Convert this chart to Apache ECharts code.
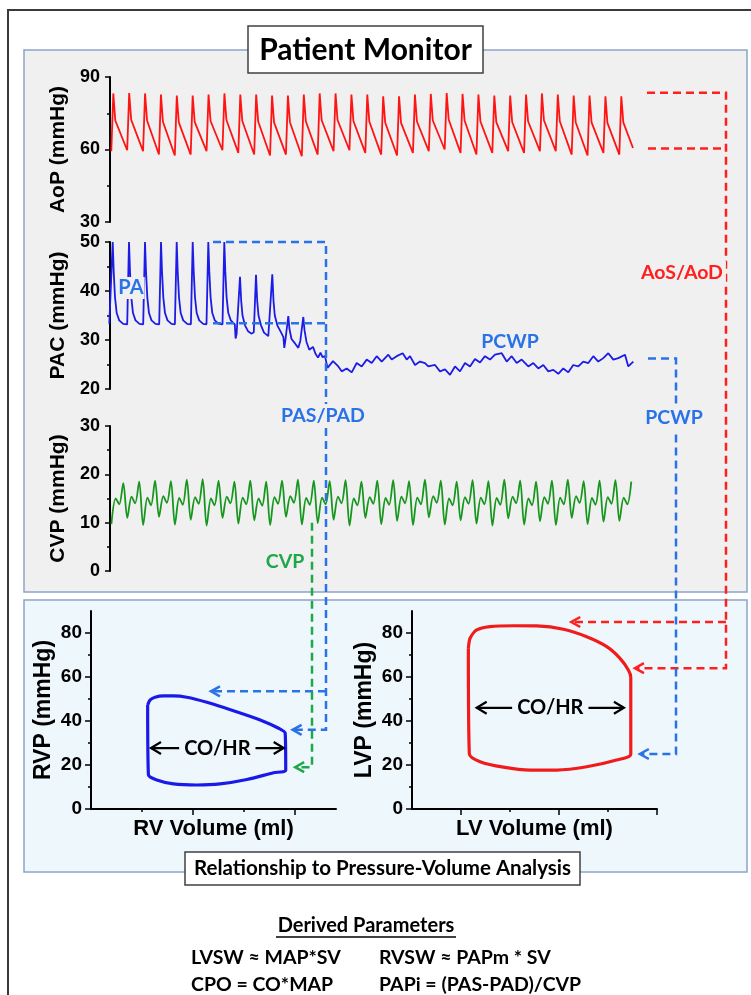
<!DOCTYPE html>
<html>
<head>
<meta charset="utf-8">
<script src="https://cdn.jsdelivr.net/npm/echarts@6/dist/echarts.min.js"></script>
<style>
  html, body { margin: 0; padding: 0; background: #fff; }
  #main { width: 751px; height: 995px; }
</style>
</head>
<body>
<div id="main"></div>
<script>
// monitor time axis in samples (20 Hz, 1 sample = 50 ms)
const beatPeriod = 15.875

// aortic pressure, one value per beat (mmHg)
const aopFirstPeak = 3.3
const aopSys = [83.2, 83.4, 83.2, 82.7, 82.3, 82.3, 82.7, 83.2, 82.7, 82.7, 82.3, 82.3, 82.7, 83.2, 83.2, 82.7, 82.7,
  82.0, 82.0, 82.7, 83.0, 83.4, 83.0, 82.7, 82.3, 82.3, 82.7, 83.2, 82.7, 82.3, 82.3, 82.0, 82.0]
const aopDia = [59.3, 59.7, 59.3, 57.9, 57.5, 57.9, 59.3, 59.7, 58.6, 57.9, 57.5, 57.9, 57.2, 57.9, 59.3, 59.7, 58.6,
  57.9, 57.5, 58.6, 59.3, 60.0, 58.6, 57.9, 58.6, 59.3, 58.6, 59.3, 59.3, 57.9, 57.5, 58.6, 57.9]
const aopNotch = [72.0, 72.3, 72.0, 71.5, 71.2, 71.4, 71.8, 72.2, 71.8, 71.6, 71.2, 71.3, 71.7, 72.1, 72.2, 71.8, 71.6,
  71.2, 71.0, 71.6, 72.0, 72.4, 72.0, 71.6, 71.3, 71.4, 71.7, 72.1, 71.7, 71.3, 71.2, 71.0, 71.2]
const aopEnd = [523, 60.6]

// central venous pressure, one value per beat (mmHg)
const cvpFirstPeak = 13.3
const cvpPeak = [18.2, 18.5, 18.7, 18.6, 18.9, 19.0, 18.7, 18.5, 18.7, 18.5, 18.7, 18.9, 18.7, 18.6, 18.8, 18.5, 18.7,
  18.8, 18.6, 18.9, 18.7, 18.5, 18.8, 18.6, 18.9, 18.7, 18.5, 18.7, 18.9, 18.6, 18.7, 18.8, 18.5]
const cvpTrough = [9.7, 11.0, 9.5, 11.2, 9.6, 10.6, 9.4, 11.0, 9.8, 10.5, 9.5, 11.2, 9.6, 9.9, 10.6, 9.4, 11.0,
  9.7, 10.4, 9.5, 11.1, 9.6, 10.5, 9.8, 9.4, 10.9, 9.6, 10.3, 9.5, 11.0, 9.7, 10.2, 10.4]
const cvpHump = [15.0, 15.4, 15.2, 15.5, 15.1, 15.3, 15.0, 15.4, 15.2, 15.0, 15.3, 15.5, 15.1, 15.2, 15.4, 15.0, 15.3,
  15.1, 15.4, 15.2, 15.5, 15.0, 15.3, 15.2, 15.1, 15.4, 15.0, 15.3, 15.2, 15.5, 15.1, 15.3, 15.2]
const cvpDip = [13.8, 14.0, 13.6, 14.1, 13.7, 13.9, 13.6, 14.0, 13.8, 13.5, 13.9, 14.1, 13.7, 13.8, 14.0, 13.6, 13.9,
  13.7, 14.0, 13.8, 14.1, 13.6, 13.9, 13.8, 13.7, 14.0, 13.6, 13.9, 13.8, 14.1, 13.7, 13.9, 13.8]

// pulmonary artery catheter pressure [sample, mmHg] (PA -> wedge)
const pacTrace = [
  [-0.7, 33.3], [2.7, 50], [3.7, 44], [5.0, 38.7], [6.7, 35.5], [9.2, 34], [13.2, 33.3],
  [17.2, 33.2], [19, 50], [20, 44], [21.3, 38.7], [23, 35.5], [25.5, 34], [29.5, 33.3],
  [33.2, 33.2], [35, 50], [36, 44], [37.3, 38.7], [39, 35.5], [41.5, 34], [45.5, 33.3],
  [49.2, 33.2], [51, 50], [52, 44], [53.3, 38.7], [55, 35.5], [57.5, 34], [61.5, 33.3],
  [64.9, 33.2], [66.7, 50], [67.7, 44], [69, 38.7], [70.7, 35.5], [73.2, 34], [77.2, 33.3],
  [80.9, 33.2], [82.7, 50], [83.7, 44], [85, 38.7], [86.7, 35.5], [89.2, 34], [93.2, 33.3],
  [96.5, 33.2], [98.3, 50], [99.3, 44], [100.6, 38.7], [102.3, 35.5], [104.8, 34], [108.8, 33.3],
  [112.5, 33.2], [114.3, 50], [115.3, 44], [116.6, 38.7], [118.3, 35.5], [120.8, 34], [124.8, 33.2],
  [125.6, 30.3], [126.6, 31.2], [130, 42.9], [131.2, 38], [132.5, 35], [135, 33], [138, 31.8], [141.7, 31.3], [143.8, 31.6],
  [146, 43.3], [147.2, 38], [148.5, 35], [151, 33], [154, 31.5], [158.3, 30.8], [160.2, 31.2],
  [162.3, 43.4], [163.5, 38], [164.8, 35], [167.3, 33], [171.7, 31.3], [173.4, 30.6], [174.3, 28.4], [175.3, 29.8],
  [178.3, 34.9], [179.5, 32.2], [181.5, 30.2], [185, 29.3], [188.3, 28.4], [190.3, 29.8],
  [193.3, 34.7], [194.5, 32], [196.5, 29.6], [199.3, 28], [203, 28.6], [205.5, 27.2], [208, 26.4], [210.5, 27.4],
  [212.5, 26.5], [215, 26.7], [217.5, 24.3],
  [223, 25.7], [228.3, 24.6], [231.7, 23.6], [236.7, 24.2], [241.7, 23.4], [246.7, 25.3], [251.7, 24.6], [256.7, 26.0],
  [261.7, 25.3], [266.7, 26.7], [271.7, 25.6], [278.3, 27.0], [281.7, 26.0], [286.7, 26.7], [292.7, 27.3], [296.7, 26.0],
  [300, 26.7], [305, 24.9], [310, 25.6], [315, 25.3], [318.3, 24.6], [325, 24.9], [330, 23.6], [335, 24.0], [340, 22.9],
  [345, 24.6], [350, 23.6], [355, 25.3], [360, 24.6], [365, 26.1], [370, 25.4], [375, 26.7], [380, 26.0], [385, 27.0],
  [391.7, 27.3], [396.7, 25.6], [401.7, 26.7], [406.7, 25.3], [411.7, 26.0], [418.3, 24.6], [423.3, 25.3], [428.3, 24.2],
  [433.3, 24.9], [438.3, 23.6], [443.3, 23.9], [448.3, 23.1], [453.3, 24.2], [458.3, 23.4], [463.3, 24.9], [468.3, 24.6],
  [473.3, 25.6], [478.3, 25.3], [483.3, 26.7], [488.3, 25.6], [493.3, 26.3], [498.3, 27.3], [503.3, 26.0], [508.3, 26.3],
  [515, 27.0], [518.3, 24.6], [523.3, 25.6]
]

// pressure-volume loops [volume, mmHg]
const rvLoop = [
  [22.2, 47.3], [23.1, 49.5], [25.1, 50.8], [28.4, 51.4], [32.3, 51.4], [37.5, 50.8], [45.4, 48.5], [55.8, 44.7],
  [66.3, 40.5], [73.5, 36.7], [76.1, 34.4], [76.3, 17.7], [71.5, 16.5], [61.1, 13.4], [50.6, 11.4], [41.4, 10.9],
  [32.3, 11.4], [25.8, 13.2], [22.5, 15.5], [22.2, 47.3]
]
const lvLoop = [
  [23.0, 73.0], [23.7, 77.6], [26.4, 81.4], [31.8, 82.9], [41.4, 83.3], [50.9, 83.2], [61.8, 81.7], [71.3, 78.3],
  [79.5, 73.8], [84.9, 68.5], [88.3, 63.2], [89.3, 59.9], [89.3, 24.9], [83.5, 22.3], [71.3, 19.2], [59.1, 17.7],
  [48.2, 17.7], [37.3, 19.0], [27.8, 21.5], [23.4, 25.0], [23.0, 73.0]
]

// annotation anchors (values on the chart scales)
const aoLevels = [83.5, 60.4]            // AoS, AoD on AoP
const lvAoTips = [[65, 85], [91, 64]]    // arrow tips on LV plot
const pasPadLevels = [50, 33.4]          // PAS, PAD on PAC
const rvPaTips = [[47, 53.5], [79, 36]]  // arrow tips on RV plot
const pcwpLevel = 26.2
const lvPcwpTip = [93, 25]
const cvpLevel = 10
const rvCvpTip = [80, 19]
const coHrRv = [23.5, 75.5, 27.7]
const coHrLv = [26.4, 86.5, 46]

const aopData = []
aopSys.forEach((s, k) => {
  const t = aopFirstPeak + k * beatPeriod
  aopData.push([t - 2, aopDia[k]], [t, s], [t + 2, aopNotch[k]])
})
aopData.push(aopEnd)

const cvpData = []
cvpPeak.forEach((p, k) => {
  const t = cvpFirstPeak + k * beatPeriod
  cvpData.push([t - 11.9, cvpTrough[k]], [t - 7.6, cvpHump[k]], [t - 4, cvpDip[k]], [t, p])
})

const AX = 'Liberation Sans'
const CAL = 'Lato'
const tickFont = { fontFamily: AX, fontWeight: 'bold', fontSize: 18, color: '#000' }
const nameFont = { fontFamily: AX, fontWeight: 'bold', fontSize: 21, color: '#000' }
const axisBlack = { lineStyle: { color: '#000', width: 2 } }

const monitorY = (gi, min, max, interval, name) => ({
  gridIndex: gi, type: 'value', min, max, interval,
  axisLine: { show: true, ...axisBlack },
  axisTick: { show: true, inside: false, length: 5, lineStyle: { color: '#000', width: 1.5 } },
  minorTick: { show: true, splitNumber: 2, length: 3, lineStyle: { color: '#000', width: 1.5 } },
  axisLabel: { ...tickFont, margin: 8 },
  splitLine: { show: false }, minorSplitLine: { show: false },
  name, nameLocation: 'middle', nameGap: 36, nameTextStyle: nameFont
})
const hiddenX = gi => ({ gridIndex: gi, type: 'value', min: -2, max: 531, show: false, splitLine: { show: false } })

const pvX = (gi, max, major, name) => ({
  gridIndex: gi, type: 'value', min: 0, max,
  axisLine: { show: true, onZero: false, ...axisBlack },
  axisTick: { show: true, length: 6, customValues: major, lineStyle: { color: '#000', width: 1.5 } },
  axisLabel: { show: false },
  splitLine: { show: false },
  name, nameLocation: 'middle', nameGap: 9,
  nameTextStyle: { ...nameFont, fontSize: 22 }
})
const pvXMinor = (gi, max, minor) => ({
  gridIndex: gi, type: 'value', min: 0, max, position: 'bottom', offset: 0,
  axisLine: { show: false }, axisLabel: { show: false }, splitLine: { show: false },
  axisTick: { show: true, length: 3, customValues: minor, lineStyle: { color: '#000', width: 1.5 } }
})
const pvY = (gi, name) => ({
  gridIndex: gi, type: 'value', min: 0, max: 90, interval: 20,
  axisLine: { show: true, onZero: false, ...axisBlack },
  axisTick: { show: true, length: 6, customValues: [0, 20, 40, 60, 80], lineStyle: { color: '#000', width: 1.5 } },
  axisLabel: { ...tickFont, fontSize: 19, margin: 9, customValues: [0, 20, 40, 60, 80] },
  splitLine: { show: false },
  name, nameLocation: 'middle', nameGap: 36,
  nameTextStyle: { ...nameFont, fontSize: 23 }
})
const pvYMinor = gi => ({
  gridIndex: gi, type: 'value', min: 0, max: 90, position: 'left', offset: 0,
  axisLine: { show: false }, axisLabel: { show: false }, splitLine: { show: false },
  axisTick: { show: true, length: 3, customValues: [10, 30, 50, 70], lineStyle: { color: '#000', width: 1.5 } }
})

const trace = (name, xi, yi, data, color, width, smooth = false) => ({
  name, type: 'line', xAxisIndex: xi, yAxisIndex: yi, data,
  symbol: 'none', smooth, animation: false,
  lineStyle: { color, width }, itemStyle: { color }
})

const option = {
  backgroundColor: '#ffffff',
  animation: false,
  grid: [
    { left: 108, top: 77, width: 533, height: 145, outerBoundsMode: 'none' },
    { left: 108, top: 242, width: 533, height: 147, outerBoundsMode: 'none' },
    { left: 108, top: 426, width: 533, height: 145, outerBoundsMode: 'none' },
    { left: 91, top: 611, width: 245, height: 198, outerBoundsMode: 'none' },
    { left: 412, top: 611, width: 245, height: 198, outerBoundsMode: 'none' }
  ],
  xAxis: [
    hiddenX(0), hiddenX(1), hiddenX(2),
    pvX(3, 96, [40, 80], 'RV Volume (ml)'), pvXMinor(3, 96, [20, 60]),
    pvX(4, 100, [20, 60, 100], 'LV Volume (ml)'), pvXMinor(4, 100, [40, 80])
  ],
  yAxis: [
    monitorY(0, 30, 90, 30, 'AoP (mmHg)'),
    monitorY(1, 20, 50, 10, 'PAC (mmHg)'),
    monitorY(2, 0, 30, 10, 'CVP (mmHg)'),
    pvY(3, 'RVP (mmHg)'), pvYMinor(3),
    pvY(4, 'LVP (mmHg)'), pvYMinor(4)
  ],
  series: [
    trace('AoP', 0, 0, aopData, '#ff1414', 1.8),
    trace('PAC', 1, 1, pacTrace, '#1c1ce6', 1.8),
    trace('CVP', 2, 2, cvpData, '#17961f', 1.8, 0.3),
    trace('RV PV loop', 3, 3, rvLoop, '#1a1ae8', 3.2, 0.25),
    trace('LV PV loop', 5, 5, lvLoop, '#f01c1c', 3.2, 0.25)
  ]
}

const chart = echarts.init(document.getElementById('main'))
chart.setOption(option)

const at = (s, x, y) => chart.convertToPixel({ seriesIndex: s }, [x, y])
const yAt = (s, v) => at(s, 0, v)[1]
const xAt = (s, v) => at(s, v, 0)[0]

const RED = '#ff1f1f'
const BLUE = '#2a72e8'
const GREEN = '#1fa84a'
const GRAY_BG = '#f0f0f0'
const BLUE_BG = '#eef8fc'

const dashed = (points, color) => ({
  type: 'polyline', z: 10, shape: { points },
  style: { stroke: color, lineWidth: 2.5, lineDash: [8, 5], fill: null }
})
const headLeft = (x, y, color, len = 9, half = 5, w = 2.5) => ({
  type: 'polyline', z: 11, shape: { points: [[x + len, y - half], [x, y], [x + len, y + half]] },
  style: { stroke: color, lineWidth: w, fill: null }
})
const headRight = (x, y, color, len = 9, half = 5, w = 2.5) => ({
  type: 'polyline', z: 11, shape: { points: [[x - len, y - half], [x, y], [x - len, y + half]] },
  style: { stroke: color, lineWidth: w, fill: null }
})
const label = (text, x, y, color, size, bg, extra = {}) => ({
  type: 'text', z: 20, x, y,
  style: Object.assign({
    text, fill: color, font: `bold ${size}px ${CAL}`, align: 'center', verticalAlign: 'middle',
    backgroundColor: bg || null, padding: bg ? [2, 3] : 0
  }, extra)
})

const g = []
// outer frame and panels
g.push({ type: 'rect', z: -20, shape: { x: 8, y: 10, width: 770, height: 1000 },
  style: { fill: '#fff', stroke: '#3a3a3a', lineWidth: 2 } })
g.push({ type: 'rect', z: -10, shape: { x: 24, y: 50, width: 723, height: 542 },
  style: { fill: GRAY_BG, stroke: '#8fa3c7', lineWidth: 1.5 } })
g.push({ type: 'rect', z: -10, shape: { x: 24, y: 600, width: 723, height: 272 },
  style: { fill: BLUE_BG, stroke: '#8fa3c7', lineWidth: 1.5 } })

// title boxes
g.push({ type: 'rect', z: 5, shape: { x: 248, y: 26, width: 235, height: 47 },
  style: { fill: '#fff', stroke: '#404040', lineWidth: 1.5 } })
g.push(label('Patient Monitor', 365.5, 50, '#000', 30))
g.push({ type: 'rect', z: 5, shape: { x: 185, y: 852, width: 395, height: 33 },
  style: { fill: '#fff', stroke: '#404040', lineWidth: 1.5 } })
g.push(label('Relationship to Pressure-Volume Analysis', 382.5, 868.5, '#000', 20.5))

// red AoS / AoD -> LV loop
const ySys = yAt(0, aoLevels[0])
const yDia = yAt(0, aoLevels[1])
const redX = 726
const lvTopY = yAt(4, lvAoTips[0][1])
const lvMidY = yAt(4, lvAoTips[1][1])
g.push(dashed([[647, ySys], [redX, ySys], [redX, lvMidY], [xAt(4, lvAoTips[1][0]) + 2, lvMidY]], RED))
g.push(dashed([[648, yDia], [redX, yDia]], RED))
g.push(dashed([[redX, lvTopY], [xAt(4, lvAoTips[0][0]) + 2, lvTopY]], RED))
g.push(headLeft(xAt(4, lvAoTips[0][0]), lvTopY, RED))
g.push(headLeft(xAt(4, lvAoTips[1][0]), lvMidY, RED))
g.push(label('AoS/AoD', 682, 273, RED, 19.5, GRAY_BG))

// blue PCWP -> LV loop
const pcwpX = 676
const yWedge = yAt(1, pcwpLevel)
const yLvEdp = yAt(4, lvPcwpTip[1])
g.push(dashed([[648, yWedge], [pcwpX, yWedge], [pcwpX, yLvEdp], [xAt(4, lvPcwpTip[0]) + 2, yLvEdp]], BLUE))
g.push(headLeft(xAt(4, lvPcwpTip[0]), yLvEdp, BLUE))
g.push(label('PCWP', 674, 418, BLUE, 19.5, GRAY_BG))
g.push(label('PCWP', 510, 342, BLUE, 19.5))

// blue PAS / PAD -> RV loop
const paX = 326
const yPas = yAt(1, pasPadLevels[0])
const yPad = yAt(1, pasPadLevels[1])
const yRvTop = yAt(3, rvPaTips[0][1])
const yRvMid = yAt(3, rvPaTips[1][1])
g.push(dashed([[213, yPas], [paX, yPas], [paX, yRvMid], [xAt(3, rvPaTips[1][0]) + 2, yRvMid]], BLUE))
g.push(dashed([[213, yPad], [paX, yPad]], BLUE))
g.push(dashed([[paX, yRvTop], [xAt(3, rvPaTips[0][0]) + 2, yRvTop]], BLUE))
g.push(headLeft(xAt(3, rvPaTips[0][0]), yRvTop, BLUE))
g.push(headLeft(xAt(3, rvPaTips[1][0]), yRvMid, BLUE))
g.push(label('PAS/PAD', 323, 416, BLUE, 19.5, GRAY_BG))
g.push(label('PA', 131, 288, BLUE, 20, GRAY_BG, { padding: [1, 1] }))

// green CVP -> RV loop
const cvpX = 312
const yCvp = yAt(2, cvpLevel)
const yRvEdp = yAt(3, rvCvpTip[1])
g.push(dashed([[cvpX, yCvp], [cvpX, yRvEdp], [xAt(3, rvCvpTip[0]) + 2, yRvEdp]], GREEN))
g.push(headLeft(xAt(3, rvCvpTip[0]), yRvEdp, GREEN))
g.push(label('CVP', 285, 562, GREEN, 19.5))

// CO/HR double arrows
const coHr = (s, spec, bg) => {
  const x1 = xAt(s, spec[0]), x2 = xAt(s, spec[1]), y = yAt(s, spec[2])
  g.push({ type: 'line', z: 12, shape: { x1, y1: y, x2, y2: y }, style: { stroke: '#000', lineWidth: 2.2 } })
  g.push(headLeft(x1, y, '#000', 10, 6, 2.2))
  g.push(headRight(x2, y, '#000', 10, 6, 2.2))
  g.push(label('CO/HR', (x1 + x2) / 2, y, '#000', 20, bg, { padding: [2, 5] }))
}
coHr(3, coHrRv, BLUE_BG)
coHr(4, coHrLv, BLUE_BG)

// derived parameters
g.push(label('Derived Parameters', 366, 926, '#000', 20))
g.push({ type: 'line', z: 20, shape: { x1: 276, y1: 937, x2: 456, y2: 937 }, style: { stroke: '#000', lineWidth: 1.5 } })
g.push(label('LVSW \u2248 MAP*SV', 191, 958, '#000', 19.5, null, { align: 'left' }))
g.push(label('CPO = CO*MAP', 191, 985, '#000', 19.5, null, { align: 'left' }))
g.push(label('RVSW \u2248 PAPm * SV', 379, 958, '#000', 19.5, null, { align: 'left' }))
g.push(label('PAPi = (PAS-PAD)/CVP', 379, 985, '#000', 19.5, null, { align: 'left' }))

chart.setOption({ graphic: { elements: g } })
</script>
</body>
</html>
